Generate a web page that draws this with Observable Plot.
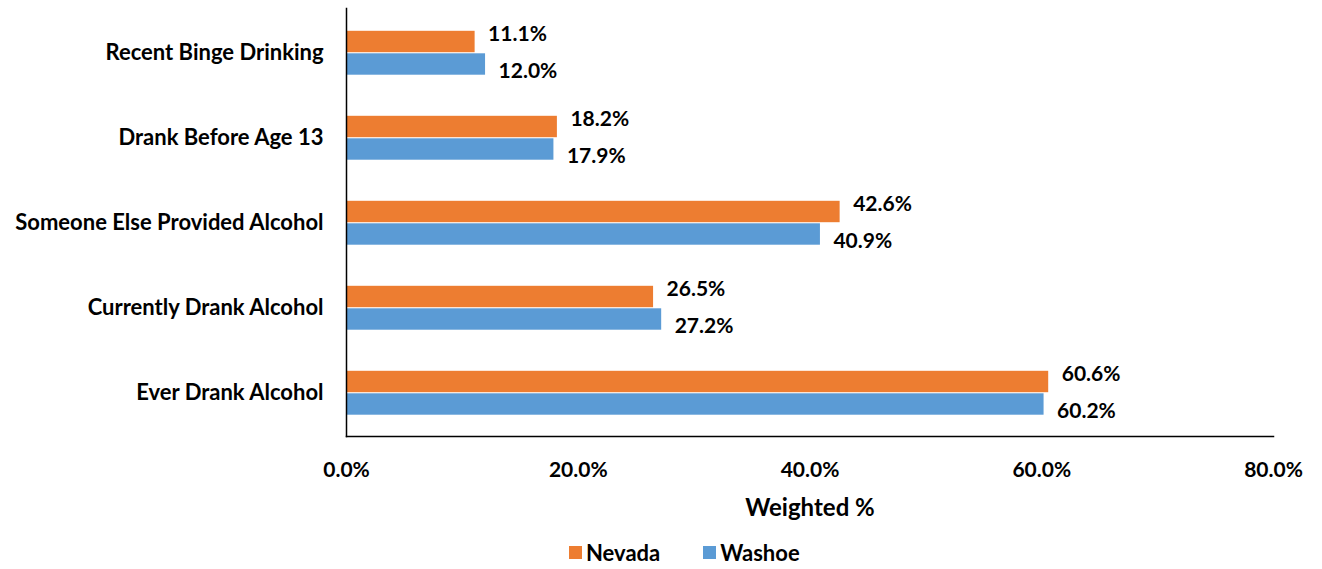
<!DOCTYPE html>
<html>
<head>
<meta charset="utf-8">
<script src="https://cdn.jsdelivr.net/npm/d3@7"></script>
<script src="https://cdn.jsdelivr.net/npm/@observablehq/plot@0.6"></script>
<style>
  html, body { margin: 0; padding: 0; background: #fff; }
  body { position: relative; width: 1322px; height: 569px; overflow: hidden; font-family: Lato, "Open Sans", sans-serif; }
  #legend { position: absolute; top: 539px; left: 569px; display: flex; align-items: center; font-weight: bold; font-size: 22px; color: #000; }
  #legend .sw { width: 13px; height: 13px; display: inline-block; margin-right: 4px; }
  #legend .item { display: flex; align-items: center; }
  #legend .item + .item { margin-left: 43px; }
</style>
</head>
<body>
<div id="chart"></div>
<div id="legend"></div>
<script>
const categories = ["Recent Binge Drinking", "Drank Before Age 13", "Someone Else Provided Alcohol", "Currently Drank Alcohol", "Ever Drank Alcohol"];
const seriesNames = ["Nevada", "Washoe"];
const nevada = [11.1, 18.2, 42.6, 26.5, 60.6];
const washoe = [12.0, 17.9, 40.9, 27.2, 60.2];
const xTicks = [0, 20, 40, 60, 80];
const colors = {Nevada: "#ED7D31", Washoe: "#5B9BD5"};

const nvData = categories.map((c, i) => ({category: c, series: "Nevada", value: nevada[i]}));
const waData = categories.map((c, i) => ({category: c, series: "Washoe", value: washoe[i]}));

const fontFamily = "Lato, 'Open Sans', sans-serif";

const chart = Plot.plot({
  width: 1322,
  height: 530,
  marginLeft: 346,
  marginRight: 49,
  marginTop: 8,
  marginBottom: 94,
  style: {fontFamily, fontWeight: "bold", fontSize: "21px", color: "#000", background: "#fff"},
  x: {domain: [0, 80], ticks: xTicks},
  y: {domain: categories, padding: 0},
  marks: [
    Plot.barX(nvData, {x: "value", y: "category", fill: colors.Nevada, insetTop: 20.8, insetBottom: 42.8}),
    Plot.barX(waData, {x: "value", y: "category", fill: colors.Washoe, insetTop: 43.3, insetBottom: 20.3}),
    Plot.text(nvData, {x: "value", y: "category", text: d => d.value.toFixed(1) + "%", dx: 13, dy: -19, textAnchor: "start", fontSize: 21, fontWeight: "bold", fill: "#000"}),
    Plot.text(waData, {x: "value", y: "category", text: d => d.value.toFixed(1) + "%", dx: 13, dy: 18, textAnchor: "start", fontSize: 21, fontWeight: "bold", fill: "#000"}),
    Plot.frame({anchor: "left", stroke: "#000", strokeWidth: 1.5}),
    Plot.frame({anchor: "bottom", stroke: "#000", strokeWidth: 1.5}),
    Plot.axisY({tickSize: 0, tickPadding: 23, label: null, fontSize: 22, fontWeight: "bold"}),
    Plot.axisX({ticks: xTicks, tickSize: 0, tickPadding: 26, label: null, tickFormat: d => d.toFixed(1) + "%", fontSize: 21, fontWeight: "bold"}),
    Plot.text(["Weighted %"], {frameAnchor: "bottom", dy: 72, text: d => d, fontSize: 24, fontWeight: "bold", fill: "#000", lineAnchor: "middle"})
  ]
});
document.getElementById("chart").appendChild(chart);

const legend = document.getElementById("legend");
seriesNames.forEach(s => {
  const item = document.createElement("span");
  item.className = "item";
  const sw = document.createElement("span");
  sw.className = "sw";
  sw.style.background = colors[s];
  item.appendChild(sw);
  item.appendChild(document.createTextNode(s));
  legend.appendChild(item);
});
</script>
</body>
</html>
